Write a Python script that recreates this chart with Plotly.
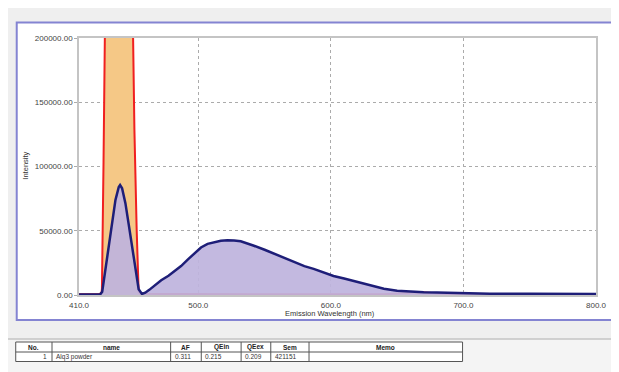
import plotly.graph_objects as go

# ---------------- data ----------------
emission_wl = [410, 420, 426, 427.5, 430, 432.5, 435, 437.5, 440, 441, 442.5, 445, 447.5,
               450, 452.5, 455, 457.5, 460, 463, 467.5, 472, 477.5, 482, 487, 492, 497,
               502, 507, 512, 517, 522, 527, 532, 537, 542, 550, 557, 565, 572, 580, 587,
               595, 602, 610, 620, 630, 640, 650, 660, 670, 680, 690, 700, 720, 750, 800]
emission_int = [300, 300, 500, 2500, 20000, 38000, 56000, 74000, 84000, 85500, 83000, 71500,
                55000, 38000, 20000, 4500, 800, 1800, 4000, 8000, 11500, 15000, 18500, 22500,
                27500, 32500, 37000, 39800, 41300, 42200, 42600, 42500, 41800, 40300, 38300,
                35200, 32200, 28800, 25500, 22500, 20300, 17500, 14800, 12800, 10300, 7500,
                4800, 3300, 2600, 2200, 1900, 1600, 1300, 1000, 900, 800]

reference_wl = [410, 420, 425, 427, 427.3, 428.5, 429.5, 429.8, 440, 450.6, 450.8, 451.8,
                453.5, 455, 456, 460, 480, 500, 550, 600, 640, 650, 658, 668, 676, 690,
                720, 800]
reference_int = [600, 600, 600, 1500, 5000, 103000, 200000, 230000, 240000, 230000, 200000,
                 128700, 51000, 2300, 1200, 900, 700, 600, 500, 500, 600, 1200, 2000, 2200,
                 1500, 600, 400, 300]

x_ticks = [410, 500, 600, 700, 800]
x_tick_labels = ["410.0", "500.0", "600.0", "700.0", "800.0"]
y_ticks = [0, 50000, 100000, 150000, 200000]
y_tick_labels = ["0.00", "50000.00", "100000.00", "150000.00", "200000.00"]

table_headers = ["No.", "name", "AF", "QEin", "QEex", "Sem", "Memo"]
table_row = ["1", "Alq3 powder", "0.311", "0.215", "0.209", "421151", ""]

# ---------------- layout geometry (screen pixels) ----------------
OFF = 8                      # page body margin
SW, SH = 619, 372            # screen size
W, H = SW - OFF, SH - OFF    # figure size
L, R, T, B = 79, 602, 38, 295  # plot area in screen px


def X(px):
    return (px - L) / (R - L)


def Y(py):
    return (B - py) / (B - T)


FONT = "Liberation Sans, Arial, sans-serif"

fig = go.Figure()

fig.add_trace(go.Scatter(x=reference_wl, y=reference_int, mode="lines", fill="tozeroy",
                         fillcolor="#f5c886", line=dict(width=0, color="rgba(0,0,0,0)"),
                         hoverinfo="skip", showlegend=False))
fig.add_trace(go.Scatter(x=reference_wl, y=reference_int, mode="lines",
                         line=dict(color="#f02020", width=2), showlegend=False))
fig.add_trace(go.Scatter(x=emission_wl, y=emission_int, mode="lines", fill="tozeroy",
                         fillcolor="rgba(190,180,222,0.93)",
                         line=dict(width=0, color="rgba(0,0,0,0)"),
                         hoverinfo="skip", showlegend=False))
fig.add_trace(go.Scatter(x=emission_wl, y=emission_int, mode="lines",
                         line=dict(color="#1e1e78", width=2.5), showlegend=False))

shapes = []
# white chart frame with blue border
shapes.append(dict(type="rect", xref="paper", yref="paper", layer="below",
                   x0=X(16), x1=X(SW + 10), y0=Y(320), y1=Y(22.5),
                   fillcolor="#ffffff", line=dict(color="#8484d2", width=2)))
# lower panel
shapes.append(dict(type="rect", xref="paper", yref="paper", layer="below",
                   x0=X(0), x1=X(SW + 5), y0=Y(SH + 5), y1=Y(339),
                   fillcolor="#f4f4f4", line=dict(width=0)))
shapes.append(dict(type="line", xref="paper", yref="paper", layer="below",
                   x0=X(0), x1=X(SW + 5), y0=Y(339), y1=Y(339),
                   line=dict(color="#c4c4c4", width=1.5)))

# table
col_edges = [15, 51.7, 171.7, 202.7, 243, 273, 311.7, 467]
t_top, t_mid, t_bot = 342, 352, 361.5
shapes.append(dict(type="rect", xref="paper", yref="paper", layer="below",
                   x0=X(col_edges[0]), x1=X(col_edges[-1]), y0=Y(t_bot), y1=Y(t_top),
                   fillcolor="#ffffff", line=dict(color="#555555", width=1)))
shapes.append(dict(type="line", xref="paper", yref="paper", layer="below",
                   x0=X(col_edges[0]), x1=X(col_edges[-1]), y0=Y(t_mid), y1=Y(t_mid),
                   line=dict(color="#555555", width=1)))
for ce in col_edges[1:-1]:
    shapes.append(dict(type="line", xref="paper", yref="paper", layer="below",
                       x0=X(ce), x1=X(ce), y0=Y(t_bot), y1=Y(t_top),
                       line=dict(color="#555555", width=1)))

annotations = []
for i, h in enumerate(table_headers):
    cx = (col_edges[i] + col_edges[i + 1]) / 2
    annotations.append(dict(xref="paper", yref="paper", x=X(cx), y=Y((t_top + t_mid) / 2),
                            text="<b>%s</b>" % h, showarrow=False, xanchor="center",
                            yanchor="middle", font=dict(family=FONT, size=6.5, color="#222222")))
for i, v in enumerate(table_row):
    if not v:
        continue
    if i == 0:
        annotations.append(dict(xref="paper", yref="paper", x=X(col_edges[1] - 3),
                                y=Y((t_mid + t_bot) / 2), text=v, showarrow=False,
                                xanchor="right", yanchor="middle",
                                font=dict(family=FONT, size=6.5, color="#333333")))
    else:
        annotations.append(dict(xref="paper", yref="paper", x=X(col_edges[i] + 2),
                                y=Y((t_mid + t_bot) / 2), text=v, showarrow=False,
                                xanchor="left", yanchor="middle",
                                font=dict(family=FONT, size=6.5, color="#333333")))

# axis titles
annotations.append(dict(xref="paper", yref="paper", x=X(333), y=Y(313.5),
                        text="Emission Wavelength (nm)", showarrow=False,
                        xanchor="center", yanchor="middle",
                        font=dict(family=FONT, size=7.5, color="#333333")))
annotations.append(dict(xref="paper", yref="paper", x=X(24), y=Y(166),
                        text="Intensity", showarrow=False, textangle=-90,
                        xanchor="center", yanchor="middle",
                        font=dict(family=FONT, size=7.5, color="#333333")))

fig.update_layout(
    width=W, height=H,
    margin=dict(l=L - OFF, r=SW - R, t=T - OFF, b=SH - B, pad=0),
    paper_bgcolor="#efefef",
    plot_bgcolor="#ffffff",
    shapes=shapes,
    annotations=annotations,
    showlegend=False,
    xaxis=dict(range=[410, 800], tickvals=x_ticks, ticktext=x_tick_labels,
               showgrid=True, gridcolor="#ababab", griddash="dot", gridwidth=1,
               zeroline=False, showline=True, mirror=True, linecolor="#c4c4c4",
               linewidth=1.5, ticks="", ticklabelstandoff=2,
               tickfont=dict(family=FONT, size=8, color="#444444")),
    yaxis=dict(range=[0, 200000], tickvals=y_ticks, ticktext=y_tick_labels,
               showgrid=True, gridcolor="#ababab", griddash="dot", gridwidth=1,
               zeroline=False, showline=True, mirror=True, linecolor="#c4c4c4",
               linewidth=1.5, ticks="outside", ticklen=3, tickcolor="#ababab",
               tickfont=dict(family=FONT, size=8, color="#444444")),
)

fig.write_html("out.html")
